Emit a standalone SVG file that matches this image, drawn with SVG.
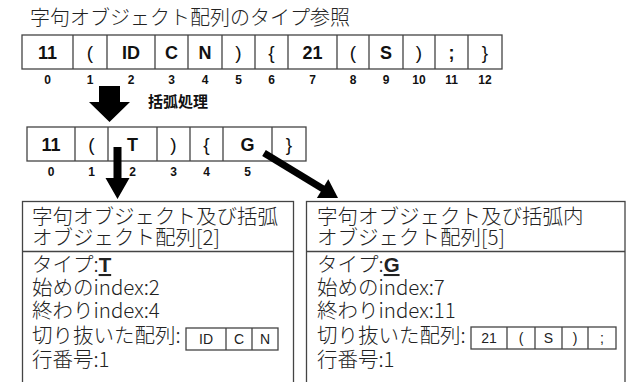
<svg xmlns="http://www.w3.org/2000/svg" width="632" height="382" viewBox="0 0 632 382">
<style>
.cell{fill:#fff;stroke:#444;stroke-width:1.3}
.ln{stroke:#444;stroke-width:1.3;fill:none}
.ct{font-family:"Liberation Sans",Arial,sans-serif;font-size:18px;font-weight:bold;fill:#111;text-anchor:middle}
.cp{font-family:"Liberation Sans",Arial,sans-serif;font-size:19px;font-weight:normal;fill:#111;text-anchor:middle}
.ix{font-family:"Liberation Sans",Arial,sans-serif;font-size:12px;font-weight:bold;fill:#111;text-anchor:middle}
.jp{font-family:"Noto Sans CJK JP",sans-serif;font-size:20.5px;font-weight:300;fill:#222}
.sm{font-family:"Liberation Sans",Arial,sans-serif;font-size:14px;fill:#222;text-anchor:middle}
.b{font-family:"Liberation Sans",Arial,sans-serif;font-weight:bold;text-decoration:underline}
.arr{fill:#000}
</style>
<g id="title">
<text class="jp" x="30" y="25" style="font-size:20px">字句オブジェクト配列のタイプ参照</text>
</g>
<g id="array1">
<rect class="cell" x="22" y="35" width="480" height="34"/>
<path class="ln" d="M73 35V69M107 35V69M155 35V69M188 35V69M222 35V69M255 35V69M288 35V69M337 35V69M369 35V69M403 35V69M435 35V69M468 35V69"/>
<text class="ct" x="47.5" y="58.5">11</text>
<text class="cp" x="90" y="58.5">(</text>
<text class="ct" x="131" y="58.5">ID</text>
<text class="ct" x="171.5" y="58.5">C</text>
<text class="ct" x="205" y="58.5">N</text>
<text class="cp" x="238.5" y="58.5">)</text>
<text class="cp" x="271.5" y="58.5">{</text>
<text class="ct" x="312.5" y="58.5">21</text>
<text class="cp" x="353" y="58.5">(</text>
<text class="ct" x="386" y="58.5">S</text>
<text class="cp" x="419" y="58.5">)</text>
<text class="ct" x="451.5" y="58.5">;</text>
<text class="cp" x="485" y="58.5">}</text>
<text class="ix" x="47.5" y="84">0</text>
<text class="ix" x="90" y="84">1</text>
<text class="ix" x="131" y="84">2</text>
<text class="ix" x="171.5" y="84">3</text>
<text class="ix" x="205" y="84">4</text>
<text class="ix" x="238.5" y="84">5</text>
<text class="ix" x="271.5" y="84">6</text>
<text class="ix" x="312.5" y="84">7</text>
<text class="ix" x="353" y="84">8</text>
<text class="ix" x="386" y="84">9</text>
<text class="ix" x="419" y="84">10</text>
<text class="ix" x="451.5" y="84">11</text>
<text class="ix" x="485" y="84">12</text>
</g>
<g id="label-kakko">
<text x="148" y="107" style="font-family:'Noto Sans CJK JP',sans-serif;font-size:15px;font-weight:bold;fill:#111">括弧処理</text>
</g>
<g id="array2">
<rect class="cell" x="27" y="127" width="279" height="34"/>
<path class="ln" d="M75 127V161M108 127V161M157 127V161M190 127V161M223 127V161M272 127V161"/>
<text class="ct" x="51" y="150.5">11</text>
<text class="cp" x="91.5" y="150.5">(</text>
<text class="ct" x="132.5" y="150.5">T</text>
<text class="cp" x="173.5" y="150.5">)</text>
<text class="cp" x="206.5" y="150.5">{</text>
<text class="ct" x="247.5" y="150.5">G</text>
<text class="cp" x="289" y="150.5">}</text>
<text class="ix" x="51" y="176">0</text>
<text class="ix" x="91.5" y="176">1</text>
<text class="ix" x="132.5" y="176">2</text>
<text class="ix" x="173.5" y="176">3</text>
<text class="ix" x="206.5" y="176">4</text>
<text class="ix" x="247.5" y="176">5</text>
</g>
<g id="box-left">
<rect class="cell" x="22.5" y="201.5" width="271" height="200"/>
<path class="ln" d="M22.5 251.5H293.5"/>
<text class="jp" x="32" y="224"><tspan x="32">字句オブジェクト及び括弧</tspan><tspan x="32" dy="21">オブジェクト配列[2]</tspan></text>
<text class="jp" x="32" y="272"><tspan x="32">タイプ:<tspan class="b">T</tspan></tspan><tspan x="32" dy="23">始めのindex:2</tspan><tspan x="32" dy="23">終わりindex:4</tspan><tspan x="32" dy="25">切り抜いた配列:</tspan><tspan x="32" dy="24">行番号:1</tspan></text>
<rect class="cell" x="186" y="328" width="92" height="22"/>
<path class="ln" d="M226 328V350M252 328V350"/>
<text class="sm" x="206" y="344">ID</text>
<text class="sm" x="239" y="344">C</text>
<text class="sm" x="265" y="344">N</text>
</g>
<g id="box-right">
<rect class="cell" x="306.5" y="201.5" width="318.5" height="200"/>
<path class="ln" d="M306.5 251.5H625"/>
<text class="jp" x="317" y="224"><tspan x="317">字句オブジェクト及び括弧内</tspan><tspan x="317" dy="21">オブジェクト配列[5]</tspan></text>
<text class="jp" x="317" y="272"><tspan x="317">タイプ:<tspan class="b">G</tspan></tspan><tspan x="317" dy="23">始めのindex:7</tspan><tspan x="317" dy="23">終わりindex:11</tspan><tspan x="317" dy="25">切り抜いた配列:</tspan><tspan x="317" dy="24">行番号:1</tspan></text>
<rect class="cell" x="471" y="327" width="145" height="22"/>
<path class="ln" d="M507 327V349M535 327V349M562 327V349M588 327V349"/>
<text class="sm" x="489" y="343">21</text>
<text class="sm" x="521" y="343">(</text>
<text class="sm" x="548.5" y="343">S</text>
<text class="sm" x="575" y="343">)</text>
<text class="sm" x="602" y="343">;</text>
</g>
<g id="connectors">
<polygon class="arr" points="99,86 120,86 120,102 130,102 109.5,122 89,102 99,102"/>
<polygon class="arr" points="113.5,147 121.5,147 121.5,178 129.5,178 117.5,199 105.5,178 113.5,178"/>
<line x1="264" y1="153" x2="324" y2="189.5" stroke="#000" stroke-width="7"/>
<polygon class="arr" points="338,198 316.9,198 328.3,179.2"/>
</g>
</svg>
